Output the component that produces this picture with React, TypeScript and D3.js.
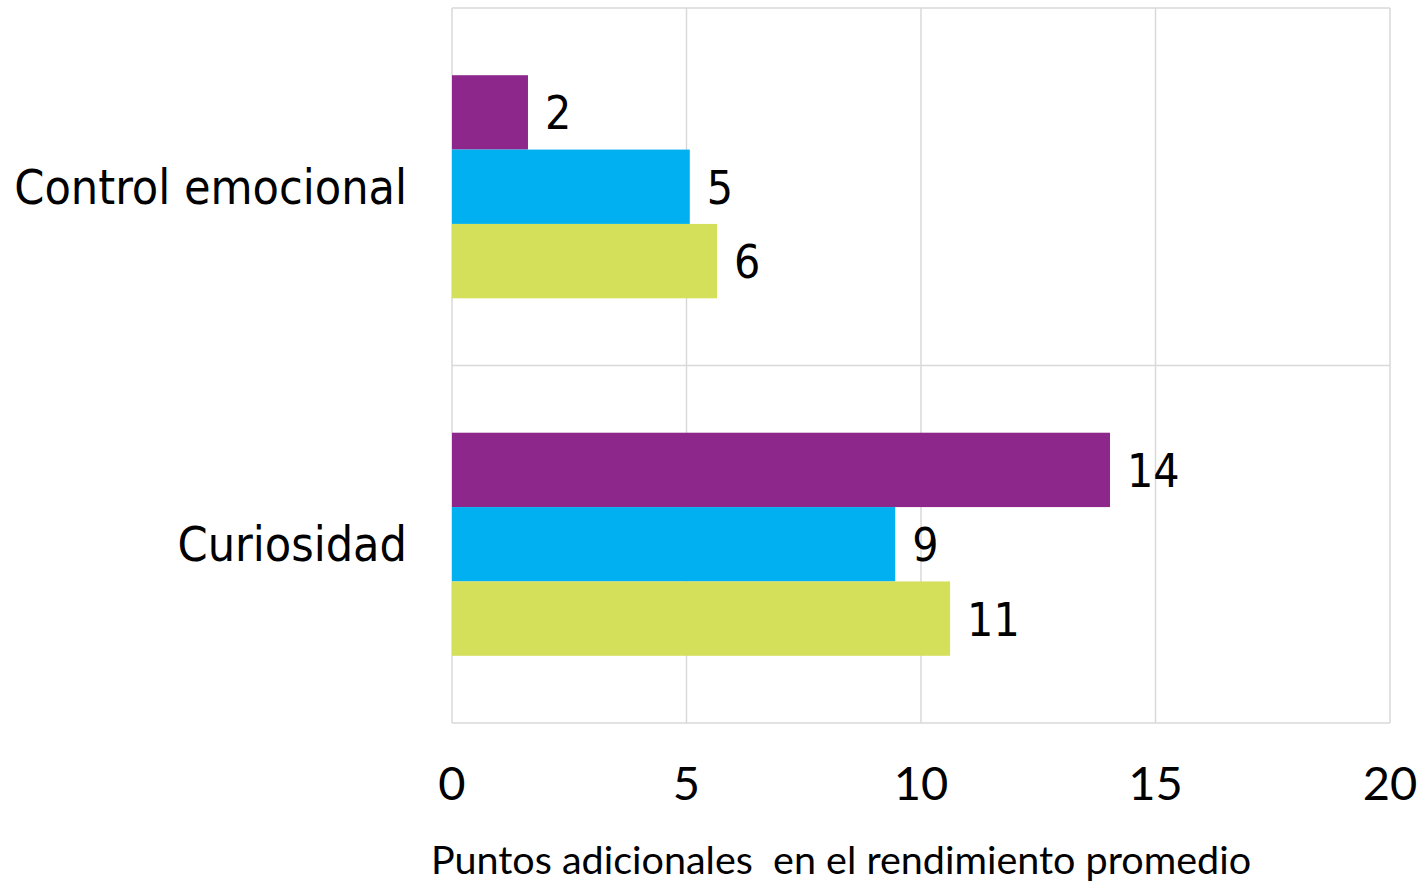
import React from "react";
import * as d3 from "d3";

const categories = ["Control emocional", "Curiosidad"];
const seriesNames = ["Serie 1", "Serie 2", "Serie 3"];
const seriesColors = ["#8E278B", "#00B0F0", "#D4DF5A"];
const serie1 = [1.62, 14.03];
const serie2 = [5.07, 9.45];
const serie3 = [5.65, 10.62];
const xTicks = [0, 5, 10, 15, 20];
const xTitle = "Puntos adicionales  en el rendimiento promedio";

const W = 1419;
const H = 884;
const left = 452;
const right = 1390;
const top = 8;
const bottom = 723;

export default function App() {
  const x = d3.scaleLinear().domain([0, 20]).range([left, right]);
  const y0 = d3.scaleBand().domain(categories).range([top, bottom]).paddingInner(0).paddingOuter(0);
  const bandW = y0.bandwidth();
  const groupH = bandW * 0.624;
  const y1 = d3
    .scaleBand()
    .domain(seriesNames)
    .range([(bandW - groupH) / 2, (bandW + groupH) / 2]);
  const allSeries = [serie1, serie2, serie3];
  const fmt = d3.format(".0f");
  const grid = "#d9d9d9";
  const labelFont = "'DejaVu Sans Condensed', 'DejaVu Sans', sans-serif";
  const axisFont = "Lato, 'Open Sans', sans-serif";

  return (
    <svg width={W} height={H} style={{ position: "absolute", left: 0, top: 0, background: "#fff" }}>
      {xTicks.map((t) => (
        <line key={"g" + t} x1={x(t)} x2={x(t)} y1={top} y2={bottom} stroke={grid} strokeWidth={1.5} />
      ))}
      {[top, ...categories.map((c) => (y0(c) as number) + bandW)].map((yy, i) => (
        <line key={"h" + i} x1={left} x2={right} y1={yy} y2={yy} stroke={grid} strokeWidth={1.5} />
      ))}
      {categories.map((c, ci) => (
        <g key={c} transform={`translate(0,${y0(c)})`}>
          {allSeries.map((s, si) => {
            const yy = y1(seriesNames[si]) as number;
            const h = y1.bandwidth();
            return (
              <g key={si}>
                <rect x={x(0)} y={yy} width={x(s[ci]) - x(0)} height={h} fill={seriesColors[si]} />
                <text
                  x={x(s[ci]) + 17}
                  y={yy + h / 2 + 17}
                  fontFamily={labelFont}
                  fontSize={46}
                  fill="#000"
                >
                  {fmt(s[ci])}
                </text>
              </g>
            );
          })}
        </g>
      ))}
      {categories.map((c) => (
        <text
          key={"c" + c}
          x={407}
          y={(y0(c) as number) + bandW / 2 + 17}
          textAnchor="end"
          fontFamily={labelFont}
          fontSize={48}
          fill="#000"
        >
          {c}
        </text>
      ))}
      {xTicks.map((t) => (
        <text
          key={"t" + t}
          x={x(t)}
          y={800}
          textAnchor="middle"
          fontFamily={axisFont}
          fontSize={47}
          fill="#000"
        >
          {t}
        </text>
      ))}
      <text
        x={841}
        y={874}
        textAnchor="middle"
        fontFamily={axisFont}
        fontSize={39.5}
        fill="#000"
        style={{ whiteSpace: "pre" }}
      >
        {xTitle}
      </text>
    </svg>
  );
}
